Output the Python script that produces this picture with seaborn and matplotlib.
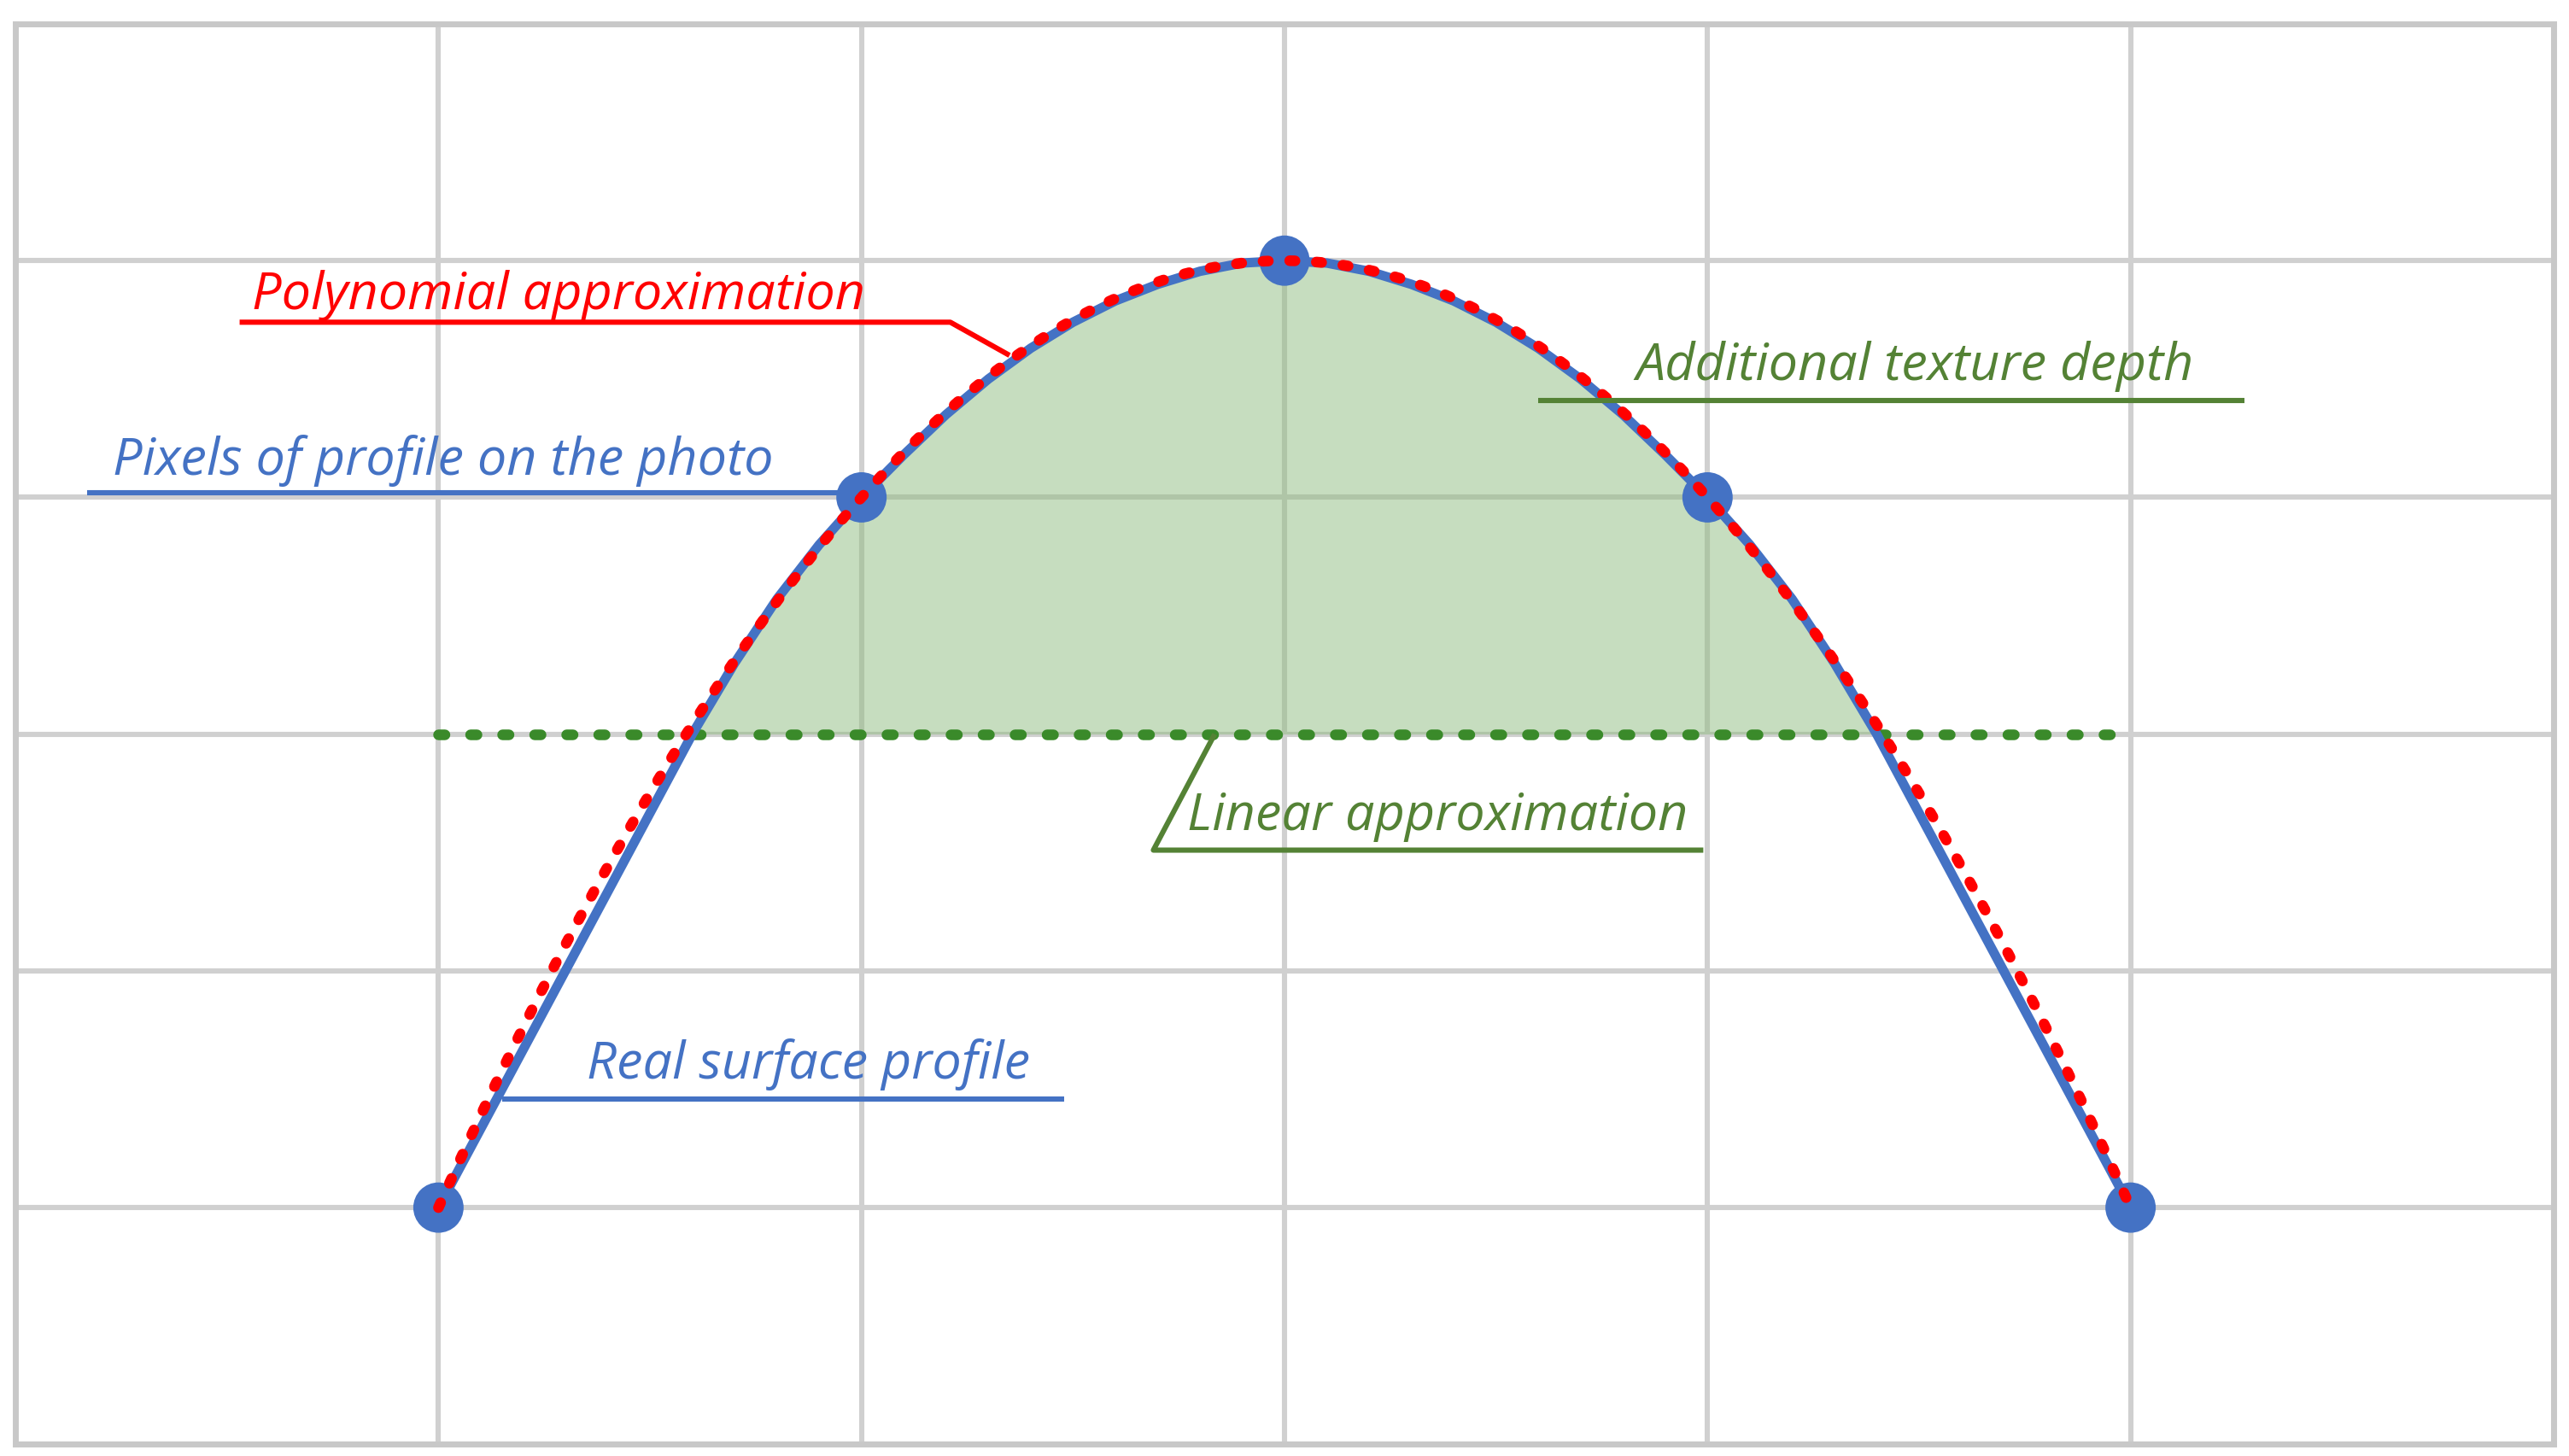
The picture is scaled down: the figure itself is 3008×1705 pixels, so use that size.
import numpy as np
import pandas as pd
import matplotlib
matplotlib.use("Agg")
import matplotlib.pyplot as plt
import seaborn as sns

# Data (grid units)
pixel_x = [1, 2, 3, 4, 5]
pixel_y = [1, 4, 5, 4, 1]
poly_coef = [-1, 6, -4]  # y = -x^2 + 6x - 4 (through pixel points)
real_x = [1.0, 1.15, 1.3, 1.45, 1.6, 1.7, 1.8, 1.9, 2.0, 2.1, 2.2, 2.3, 2.4, 2.5, 2.6, 2.7, 2.8, 2.9, 3.0,
          3.1, 3.2, 3.3, 3.4, 3.5, 3.6, 3.7, 3.8, 3.9, 4.0, 4.1, 4.2, 4.3, 4.4, 4.55, 4.7, 4.85, 5.0]
real_y = [1.0, 1.5, 2.0, 2.5, 3.0, 3.3, 3.57, 3.8, 4.0, 4.18, 4.35, 4.5, 4.63, 4.74, 4.83, 4.9, 4.955, 4.99, 5.0,
          4.99, 4.955, 4.9, 4.83, 4.74, 4.63, 4.5, 4.35, 4.18, 4.0, 3.8, 3.57, 3.3, 3.0, 2.5, 2.0, 1.5, 1.0]
linear_level = 3.0
linear_x = [1, 5]

sns.set_theme(style="white")
plt.rcParams['font.family'] = ['Open Sans', 'DejaVu Sans']

fig = plt.figure(figsize=(15.04, 8.53), dpi=200)
ax = fig.add_axes([0.006, 0.008, 0.988, 0.975])
ax.set_xlim(0, 6); ax.set_ylim(0, 6)
ax.set_xticks(range(7)); ax.set_yticks(range(7))
ax.grid(True, color="#d0d0d0", lw=2.2)
ax.tick_params(length=0, labelbottom=False, labelleft=False)
for s in ax.spines.values():
    s.set_color("#c8c8c8"); s.set_linewidth(2.5)

blue = "#4472c4"; red = "#ff0000"; green = "#548235"

xs = np.linspace(1, 5, 400)
py = np.polyval(poly_coef, xs)
ax.fill_between(xs, linear_level, py, where=py >= linear_level, color="#8fbc80", alpha=0.5, lw=0, zorder=1)

sns.lineplot(x=real_x, y=real_y, ax=ax, color=blue, lw=4, zorder=3, sort=False)
sns.lineplot(x=linear_x, y=[linear_level]*2, ax=ax, color="#3a8a2a", lw=4.5, ls=(0, (0.6, 2.4)),
             dash_capstyle="round", zorder=2)
sns.scatterplot(x=pixel_x, y=pixel_y, ax=ax, color=blue, s=450, edgecolor="none", zorder=4)
xd = np.linspace(1, 5, 300)
ax.plot(xd, np.polyval(poly_coef, xd), color=red, lw=4.5, ls=(0, (0.5, 2.0)),
        dash_capstyle="round", zorder=5)

fs = 22
def label(text, tx, ty, color, line):
    ax.text(tx, ty, text, color=color, fontsize=fs, style="italic", va="baseline", zorder=6)
    ax.plot(line[0], line[1], color=color, lw=2.2, zorder=6, solid_capstyle="butt")

label("Polynomial approximation", 0.56, 4.80, red, ([0.53, 2.21, 2.35], [4.74, 4.74, 4.60]))
label("Pixels of profile on the photo", 0.23, 4.10, blue, ([0.17, 1.96], [4.02, 4.02]))
label("Additional texture depth", 3.83, 4.50, green, ([3.60, 5.27], [4.41, 4.41]))
label("Linear approximation", 2.77, 2.60, green, ([2.835, 2.69, 3.99], [3.0, 2.51, 2.51]))
label("Real surface profile", 1.35, 1.55, blue, ([1.15, 2.48], [1.46, 1.46]))

fig.savefig("out.png", dpi=200, facecolor="white")
